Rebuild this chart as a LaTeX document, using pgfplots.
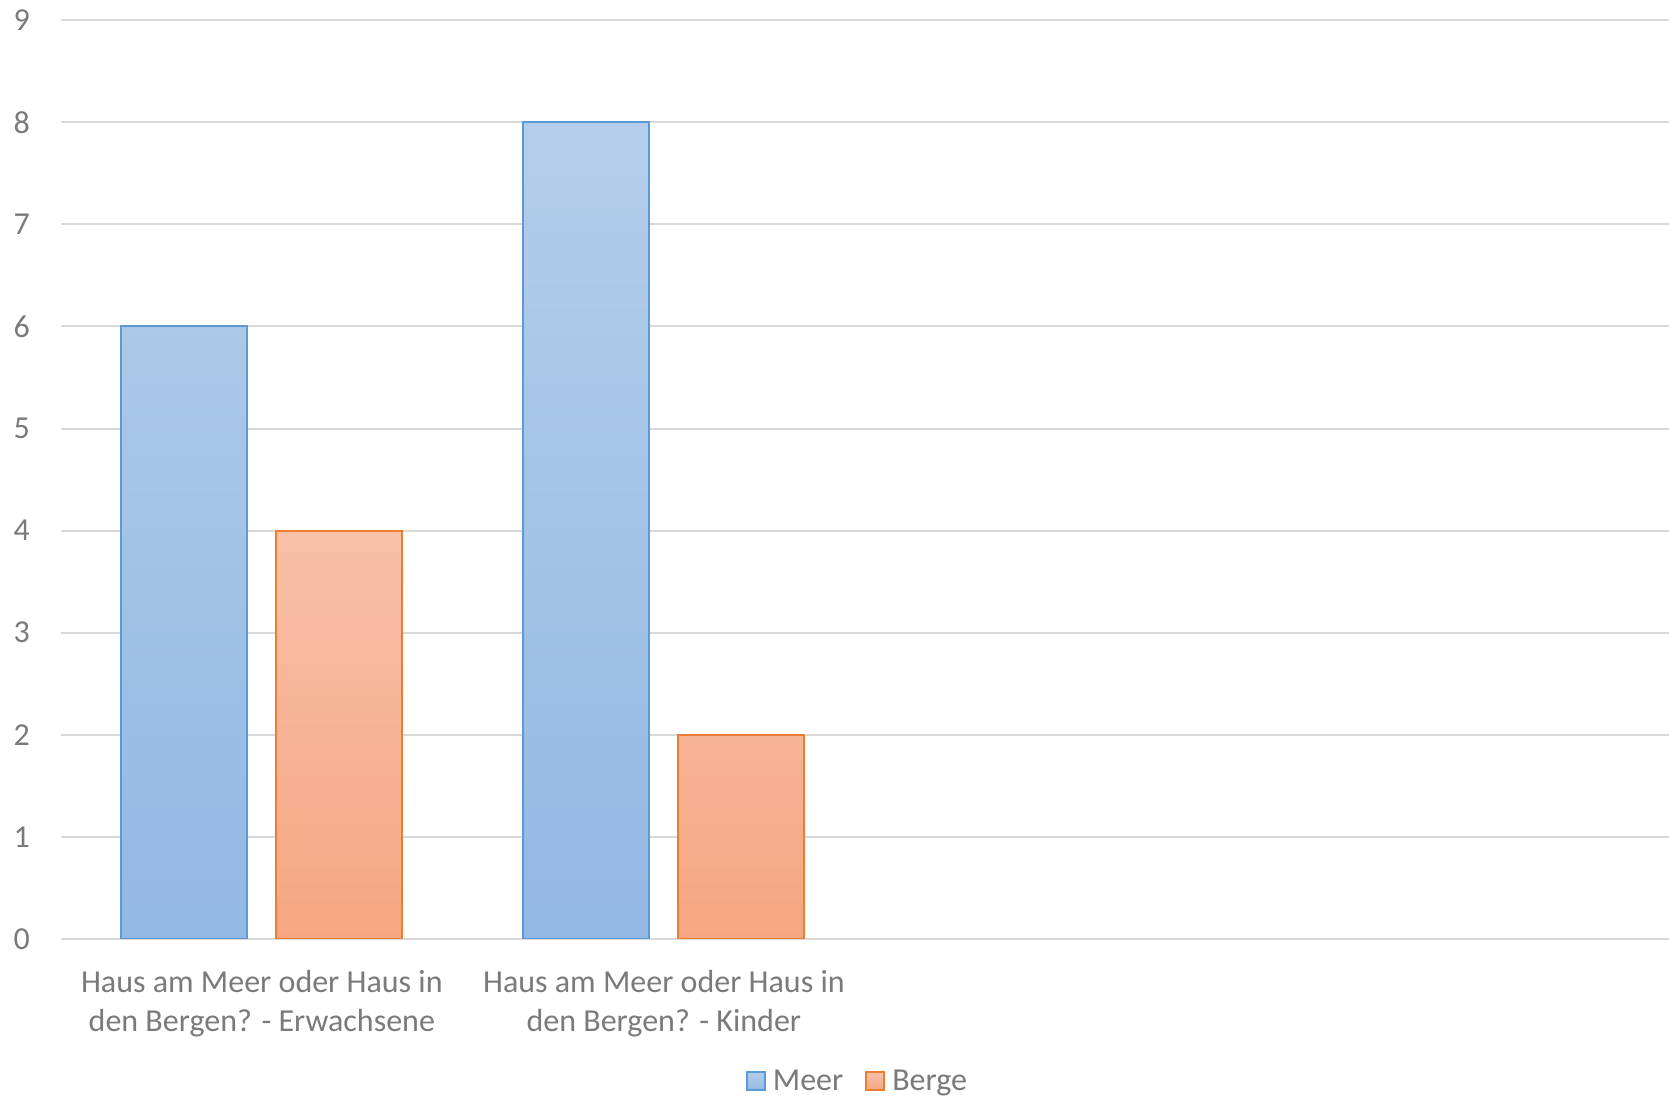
\documentclass[border=0pt]{standalone}
\usepackage{pgfplots}
\pgfplotsset{compat=1.18}
\usepackage{fontspec}
\setmainfont{Carlito}
\definecolor{txt}{HTML}{7A7A7A}
\definecolor{grd}{HTML}{D9D9D9}
\definecolor{meerT}{HTML}{B4CDEA}
\definecolor{meerB}{HTML}{93B8E4}
\definecolor{meerL}{HTML}{5B9BD5}
\definecolor{bergT}{HTML}{F7C0A7}
\definecolor{bergB}{HTML}{F6A682}
\definecolor{bergL}{HTML}{ED7D31}
\begin{document}
\begin{tikzpicture}
\begin{axis}[
  name=ax, at={(0,0)}, anchor=south west,
  scale only axis, width=804pt, height=459.3pt,
  xmin=-0.5, xmax=3.5, ymin=0, ymax=9,
  ytick={0,1,...,9},
  xtick={0,1},
  /pgf/number format/assume math mode=true,
  xticklabels={Haus am Meer oder Haus in\\den Bergen? - Erwachsene, Haus am Meer oder Haus in\\den Bergen? - Kinder},
  xticklabel style={align=center, font=\fontsize{16}{19.7}\selectfont, text=txt, yshift=-12pt},
  yticklabel style={font=\fontsize{16}{19}\selectfont, text=txt, xshift=-12pt},
  major tick length=0pt,
  axis line style={draw=none},
  ymajorgrids, grid style={grd, line width=1pt},
  ybar, bar width=63pt,
  legend style={at={(0.496,-0.155)}, anchor=center, draw=none, legend columns=2,
    font=\fontsize{16}{18}\selectfont, text=txt,
    /tikz/every even column/.append style={column sep=9pt}},
  legend image code/.code={\draw[#1, line width=1pt] (0pt,-4.5pt) rectangle (9pt,4.5pt); \path[draw=none, fill=none, shading=none] (0pt,0pt) coordinate (a) (11pt,0pt) coordinate (b);},
]
\addplot[bar shift=-38.75pt, draw=meerL, line width=1pt, top color=meerT, bottom color=meerB] coordinates {(0,6) (1,8)};
\addlegendentry{Meer}
\addplot[bar shift=38.75pt, draw=bergL, line width=1pt, top color=bergT, bottom color=bergB] coordinates {(0,4) (1,2)};
\addlegendentry{Berge}
\end{axis}
\pgfresetboundingbox
\path (-30.4pt,-82.1pt) rectangle (804pt,469.4pt);
\end{tikzpicture}
\end{document}
